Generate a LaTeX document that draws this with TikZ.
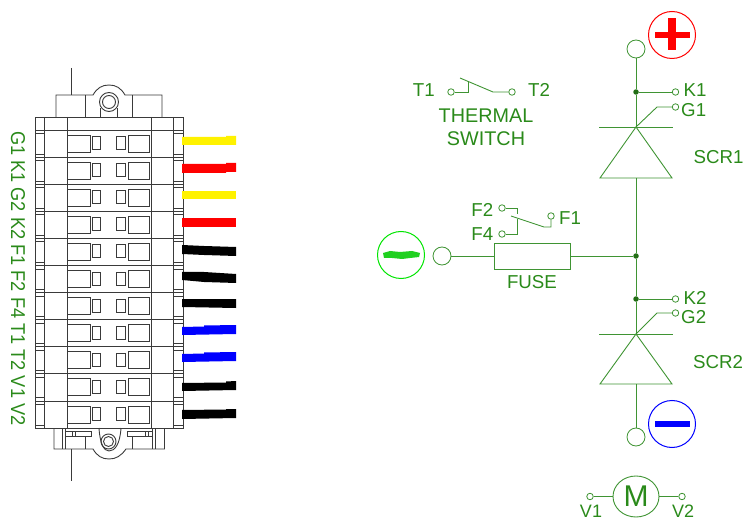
\documentclass[tikz,border=0pt]{standalone}
\usetikzlibrary{shapes.geometric}
\usepackage{fontspec}
\setmainfont{Liberation Sans}
\definecolor{lbl}{HTML}{2A8A1A}
\definecolor{ln}{HTML}{3F9433}
\definecolor{dk}{HTML}{3A3A3A}
\definecolor{blob}{HTML}{20D020}
\tikzset{
  schem/.style={draw=ln,line width=0.9pt},
  term/.style={circle,draw=ln,line width=0.8pt,fill=white,inner sep=0pt,minimum size=6.5pt},
  bigterm/.style={circle,draw=ln,line width=0.8pt,fill=white,inner sep=0pt,minimum size=18pt},
  junc/.style={circle,fill=lbl!80!black,inner sep=0pt,minimum size=5.5pt},
  lab/.style={text=lbl,font=\fontsize{18.7}{19}\selectfont,inner sep=0pt},
  body/.style={draw=dk,line width=0.9pt}
}
\begin{document}
\begin{tikzpicture}[x=1pt,y=-1pt]
\useasboundingbox (0,0) rectangle (744,521);
% ---- connector block
\draw[body] (35,117) rectangle (183,428);
\foreach \x in {44,67,151,173}{\draw[body] (\x,117) -- (\x,428);}
\foreach \i in {0,...,10}{
  \pgfmathsetmacro\t{130+27.1*\i}
  \draw[body] (35,\t) -- (183,\t);
  \draw[body] (67.5,\t+5) rectangle (90,\t+22);
  \draw[body] (92.5,\t+6.5) rectangle (100.5,\t+19.5);
  \draw[body] (116.5,\t+6.5) rectangle (125.5,\t+19.5);
  \draw[body] (128,\t+5) rectangle (149.5,\t+22);
  \draw[body] (35,\t+3.5) -- (44,\t+3.5);
  \draw[body] (174,\t+3.5) -- (183,\t+3.5);
  \draw[body] (35,\t+24) -- (44,\t+24);
  \draw[body] (174,\t+24) -- (183,\t+24);
}
% top lug
\draw[body] (56,117) -- (56,95) -- (93,95) .. controls (97,88) and (102,85) .. (109,85) .. controls (116,85) and (121,88) .. (125,95) -- (162,95) -- (162,117);
\draw[body] (85.5,95) -- (85.5,117) (132.5,95) -- (132.5,117) (100.5,108) -- (100.5,117) (117,108) -- (117,117);
\draw[body] (109,102) circle (9.5) (109,102) circle (6.5);
\draw[body] (71,68) -- (71,95);
% bottom lug
\draw[body] (54,428) -- (54,449) -- (93,449) .. controls (97,456) and (102,459) .. (109,459) .. controls (116,459) and (121,456) .. (126,449) -- (164.5,449) -- (164.5,428);
\draw[body] (62,428) -- (62,449) (65.5,428) -- (65.5,449) (85.5,437) -- (85.5,449) (132.5,437) -- (132.5,449) (152.5,428) -- (152.5,449) (155,428) -- (155,449);
\draw[body] (66,431) -- (91.5,431) -- (91.5,436.5) -- (66,436.5) (75,431) -- (75,436.5) (72,431) -- (72,436.5);
\draw[body] (127,431) -- (152,431) (127,431) -- (127,436.5) -- (152,436.5) (145,431) -- (145,436.5) (148,431) -- (148,436.5);
\draw[body] (99,428) .. controls (100,444) and (104,451) .. (109,451) .. controls (115,451) and (120,444) .. (121,428);
\draw[body] (108.5,441.5) circle (7.5) (108.5,441.5) circle (5);
\draw[body] (71,449) -- (71,481);
% wires
\fill[yellow] (182,137) -- (226,137) -- (226,136) -- (236,136) -- (236,145) -- (182,145) -- cycle;
\fill[red] (182,164) -- (226,164) -- (226,163) -- (236,163) -- (236,172) -- (226,172) -- (226,173) -- (182,173) -- cycle;
\fill[yellow] (182,191) -- (236,191) -- (236,199) -- (182,199) -- cycle;
\fill[red] (182,218) rectangle (236,227);
\fill[black] (182,245) -- (204,246) -- (236,247) -- (236,256) -- (204,255) -- (182,254) -- cycle;
\fill[black] (182,272) -- (204,272) -- (236,274) -- (236,283) -- (204,282) -- (182,280) -- cycle;
\fill[black] (182,299) -- (236,299) -- (236,308) -- (182,307) -- cycle;
\fill[blue] (182,327) -- (204,326.5) -- (204,325.5) -- (236,325) -- (236,334) -- (182,335) -- cycle;
\fill[blue] (182,354) -- (204,353.5) -- (204,352.5) -- (236,352) -- (236,361) -- (182,362) -- cycle;
\fill[black] (182,383) -- (226,382.5) -- (226,381.5) -- (236,381) -- (236,390) -- (182,391) -- cycle;
\fill[black] (182,410) -- (226,409.5) -- (226,409) -- (236,409) -- (236,418) -- (182,419) -- cycle;
% rotated pin labels
\node[text=lbl,inner sep=0pt,font=\fontsize{18.2}{19}\selectfont,rotate=-90,yscale=1.1,anchor=west] (pins) at (18,131) {G1 K1 G2 K2 F1 F2 F4 T1 T2 V1 V2};
% ---- main line
\node[bigterm] (tp) at (636,49) {};
\node[bigterm] (bt) at (636,437) {};
\node[bigterm] (lt) at (442,256) {};
\node[junc] (j1) at (636,92) {};
\node[junc] (j2) at (636,256) {};
\node[junc] (j3) at (636,299) {};
\coordinate (a1) at (636,127);
\coordinate (a2) at (636,334);
\draw[schem] (tp) -- (j1) -- (a1);
\draw[schem] (636,178) -- (j2) -- (j3) -- (a2);
\draw[schem] (636,384) -- (bt);
% SCR1
\draw[schem] (599,127) -- (673,127);
\draw[schem] (a1) -- (672,178) -- (600,178) -- cycle;
\node[term] (k1) at (675.5,92) {};
\node[term] (g1) at (675.5,107) {};
\draw[schem] (j1) -- (k1);
\draw[schem] (a1) -- (657,107) -- (g1);
\node[lab,anchor=west] at (683.5,90) {K1};
\node[lab,anchor=west] at (681,110.5) {G1};
\node[lab,anchor=west] at (693.5,157) {SCR1};
% SCR2
\draw[schem] (599,334) -- (673,334);
\draw[schem] (a2) -- (672,384) -- (600,384) -- cycle;
\node[term] (k2) at (675.5,299) {};
\node[term] (g2) at (675.5,313) {};
\draw[schem] (j3) -- (k2);
\draw[schem] (a2) -- (657,313) -- (g2);
\node[lab,anchor=west] at (683.5,298) {K2};
\node[lab,anchor=west] at (681,317.5) {G2};
\node[lab,anchor=west] at (693,362) {SCR2};
% polarity symbols
\node[circle,draw=red,line width=1pt,inner sep=0pt,minimum size=47pt] (plus) at (672,35) {};
\fill[red] (655,32) rectangle (690,38);
\fill[red] (668,18) rectangle (676,50);
\node[circle,draw=blue,line width=1pt,inner sep=0pt,minimum size=47pt] (minus) at (672,424) {};
\fill[blue] (655,421) rectangle (690,427);
\node[circle,draw=green!90!black,line width=1pt,inner sep=0pt,minimum size=47pt] (neg) at (401,255) {};
\fill[blob] (383,253) -- (390,251) -- (400,252) -- (412,251) -- (420,253) -- (419,257) -- (410,258) -- (402,259) -- (392,258) -- (384,258) -- cycle;
% fuse
\node[draw=ln,line width=0.9pt,minimum width=76pt,minimum height=26pt,inner sep=0pt,fill=white] (fuse) at (532,256) {};
\draw[schem] (lt) -- (fuse) -- (j2);
\node[lab] at (532,282) {FUSE};
% F switch
\node[term] (f2) at (502,208) {};
\node[term] (f4) at (502,234) {};
\node[term] (f1) at (551,216) {};
\draw[schem] (f2) -- (517,208) -- (517,214);
\draw[schem] (f4) -- (517,234) -- (517,219);
\draw[schem] (511,216) -- (544,227) -- (551,227) -- (f1);
\node[lab,anchor=east] at (493.5,210) {F2};
\node[lab,anchor=east] at (493.5,234) {F4};
\node[lab,anchor=west] at (559,218.5) {F1};
% thermal switch
\node[term] (t1) at (451,92) {};
\node[term] (t2) at (512,92) {};
\draw[schem] (t1) -- (468,92) -- (468,81);
\draw[schem] (460,78) -- (493,92) -- (t2);
\node[lab,anchor=east] at (435,90) {T1};
\node[lab,anchor=west] at (528,90) {T2};
\node[lab,font=\fontsize{19.8}{20}\selectfont] at (486,116) {THERMAL};
\node[lab,font=\fontsize{19.8}{20}\selectfont] at (486,139) {SWITCH};
% motor
\node[ellipse,draw=ln,line width=0.9pt,minimum width=46pt,minimum height=41pt,inner sep=0pt,text=lbl,font=\fontsize{30}{30}\selectfont] (m) at (636,496.5) {M};
\node[term] (v1) at (590,496.5) {};
\node[term] (v2) at (682,496.5) {};
\draw[schem] (v1) -- (m) -- (v2);
\node[lab,font=\fontsize{18}{18}\selectfont] at (591,511.5) {V1};
\node[lab,font=\fontsize{18}{18}\selectfont] at (683,511.5) {V2};
\end{tikzpicture}
\end{document}
